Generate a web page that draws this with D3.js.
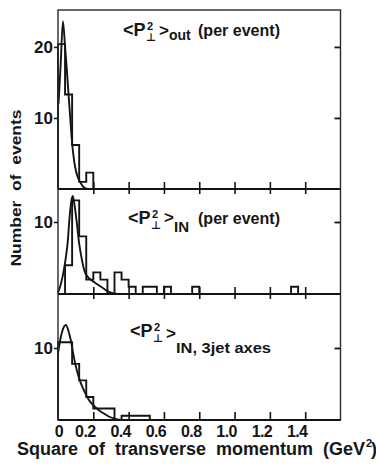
<!DOCTYPE html>
<html><head><meta charset="utf-8">
<script src="https://cdn.jsdelivr.net/npm/d3@7"></script>
<style>
body{margin:0;background:#fff}
svg{display:block}
text{font-family:"Liberation Sans",Arial,Helvetica,sans-serif;font-weight:bold;fill:#161616}
</style>
</head><body>
<svg id="c" width="376" height="470"></svg>
<script>
// ---------------- data ----------------
const binWidth = 0.04;
const hist1 = [20.4, 13.3, 6.2, 1, 2.3];
const hist2 = [0, 4, 13, 8, 2, 3, 2, 0, 3, 2, 1, 0, 1, 1, 0, 1, 0, 0, 0, 1,
               0, 0, 0, 0, 0, 0, 0, 0, 0, 0, 0, 0, 0, 1];
const hist3 = [10.8, 10.8, 7.8, 5.5, 3.2, 1.6, 1.6, 1.6, 0, 0.6, 0.6, 0.6, 0.6];

const fitX1 = [0.003, 0.015, 0.028, 0.04, 0.05, 0.06, 0.07, 0.078, 0.088, 0.097, 0.11, 0.125, 0.14, 0.155, 0.17];
const fitY1 = [12, 17.5, 23.6, 20, 16.8, 13.2, 9.8, 7, 4.6, 3.1, 1.8, 1.0, 0.4, 0.1, 0];
const fitX2 = [0, 0.015, 0.03, 0.045, 0.055, 0.065, 0.075, 0.083, 0.092, 0.106, 0.12, 0.135, 0.15, 0.165, 0.19, 0.22, 0.25, 0.28, 0.31, 0.34];
const fitY2 = [0.2, 1.3, 2.9, 5.2, 7.2, 10.5, 12.8, 13.6, 12.6, 10, 7, 4.8, 3.2, 2.5, 1.9, 1.4, 0.9, 0.4, 0.1, 0];
const fitX3 = [0, 0.01, 0.025, 0.045, 0.06, 0.074, 0.085, 0.097, 0.11, 0.125, 0.14, 0.153, 0.17, 0.19, 0.21, 0.23, 0.26, 0.29, 0.32, 0.36];
const fitY3 = [9.2, 10.8, 12.4, 13.2, 12.3, 10.9, 9.4, 7.9, 6.6, 5.4, 4.5, 3.8, 3.0, 2.3, 1.8, 1.4, 0.9, 0.45, 0.2, 0];

const xTickValues = [0, 0.2, 0.4, 0.6, 0.8, 1.0, 1.2, 1.4];
const xTickLabels = ["0", "0.2", "0.4", "0.6", "0.8", "1.0", "1.2", "1.4"];
const yTicks1 = [10, 20];
const yTicks2 = [10];
const yTicks3 = [10];
const yMax = [25.2, 14.58, 17.5];

const xLabel = "Square  of  transverse  momentum  (GeV";
const yLabel = "Number  of  events";

// ---------------- layout ----------------
const svg = d3.select("#c");
const L = 58, R = 340.5;
const x = d3.scaleLinear().domain([0, 1.6]).range([L, R]);
const bounds = [[10, 189], [189, 294], [294, 420]];

const panels = [
  {hist: hist1, fx: fitX1, fy: fitY1, ticks: yTicks1, ymax: yMax[0]},
  {hist: hist2, fx: fitX2, fy: fitY2, ticks: yTicks2, ymax: yMax[1]},
  {hist: hist3, fx: fitX3, fy: fitY3, ticks: yTicks3, ymax: yMax[2]}
];

const stroke = "#141414";

panels.forEach((p, i) => {
  const [top, bottom] = bounds[i];
  const y = d3.scaleLinear().domain([0, p.ymax]).range([bottom, top]);
  const g = svg.append("g");

  // histogram
  const pts = [[0, 0]];
  p.hist.forEach((v, k) => pts.push([k * binWidth, v]));
  pts.push([p.hist.length * binWidth, 0]);
  const step = d3.line().x(d => x(d[0])).y(d => y(d[1])).curve(d3.curveStepAfter);
  g.append("path").attr("d", step(pts)).attr("fill", "none")
    .attr("stroke", stroke).attr("stroke-width", 1.9);

  // fit curve
  const cpts = p.fx.map((v, k) => [v, p.fy[k]]);
  const line = d3.line().x(d => x(d[0])).y(d => y(d[1])).curve(d3.curveMonotoneX);
  g.append("path").attr("d", line(cpts)).attr("fill", "none")
    .attr("stroke", stroke).attr("stroke-width", 1.9);

  // left axis (outward ticks)
  const la = g.append("g").attr("transform", `translate(${L},0)`)
    .call(d3.axisLeft(y).tickValues(p.ticks).tickSize(4).tickPadding(1).tickFormat(d3.format("d")));
  la.select(".domain").remove();
  la.selectAll("line").attr("stroke", stroke).attr("stroke-width", 1.6);
  la.selectAll("text").attr("font-size", 17).attr("font-family", null).attr("fill", "#161616");

  // right axis (inward ticks)
  const ra = g.append("g").attr("transform", `translate(${R},0)`)
    .call(d3.axisLeft(y).tickValues(p.ticks).tickSize(6).tickFormat(""));
  ra.select(".domain").remove();
  ra.selectAll("line").attr("stroke", stroke).attr("stroke-width", 1.8);

  // bottom ticks (inward, upward)
  const ba = g.append("g").attr("transform", `translate(0,${bottom})`)
    .call(d3.axisTop(x).tickValues(xTickValues.slice(1)).tickSize(i === 2 ? 8 : 7).tickFormat(""));
  ba.select(".domain").remove();
  ba.selectAll("line").attr("stroke", stroke).attr("stroke-width", 1.6);

  // top ticks for lower panels (inward, downward)
  if (i > 0) {
    const ta = g.append("g").attr("transform", `translate(0,${top})`)
      .call(d3.axisBottom(x).tickValues(xTickValues.slice(1)).tickSize(5).tickFormat(""));
    ta.select(".domain").remove();
    ta.selectAll("line").attr("stroke", stroke).attr("stroke-width", 1.6);
  }
});

// frame
svg.append("rect").attr("x", L).attr("y", 10).attr("width", R - L).attr("height", 410)
  .attr("fill", "none").attr("stroke", "#2a2a2a").attr("stroke-width", 1.4);
[189, 294].forEach(v => svg.append("line").attr("x1", L).attr("x2", R)
  .attr("y1", v).attr("y2", v).attr("stroke", stroke).attr("stroke-width", 2.2));
svg.append("line").attr("x1", L).attr("x2", R).attr("y1", 420).attr("y2", 420)
  .attr("stroke", stroke).attr("stroke-width", 1.8);

// x tick labels
svg.append("g").selectAll("text").data(xTickValues).join("text")
  .attr("x", (d, k) => k === 0 ? x(d) + 1 : x(d) - 8)
  .attr("y", 437).attr("text-anchor", "middle").attr("font-size", 16)
  .attr("letter-spacing", -0.6)
  .text((d, k) => xTickLabels[k]);

// x axis label
const xt = svg.append("text").attr("x", 17).attr("y", 455).attr("font-size", 18)
  .style("white-space", "pre").text(xLabel);
xt.attr("textLength", 348).attr("lengthAdjust", "spacingAndGlyphs");
svg.append("text").attr("x", 366).attr("y", 447).attr("font-size", 11).text("2");
svg.append("text").attr("x", 371).attr("y", 455).attr("font-size", 18).text(")");

// y axis label
svg.append("text").attr("transform", "translate(21,188) rotate(-90)")
  .attr("text-anchor", "middle").attr("font-size", 15).style("white-space", "pre")
  .attr("textLength", 157).attr("lengthAdjust", "spacingAndGlyphs").text(yLabel);

// panel titles
function title(cfg) {
  svg.append("text").attr("x", cfg.x).attr("y", cfg.y).attr("font-size", 18).text("<P");
  svg.append("text").attr("x", cfg.x + 24).attr("y", cfg.y - 6).attr("font-size", 11).text("2");
  svg.append("text").attr("x", cfg.x + 23).attr("y", cfg.y + 5).attr("font-size", 11)
    .attr("fill", "#161616").style("font-family", "'DejaVu Sans', sans-serif").text("\u22A5");
  svg.append("text").attr("x", cfg.x + 36).attr("y", cfg.y + cfg.gtDy).attr("font-size", 17).text(">");
  const s = svg.append("text").attr("x", cfg.x + 46).attr("y", cfg.y + cfg.subDy)
    .attr("font-size", cfg.subSize).style("white-space", "pre").text(cfg.sub);
  if (cfg.subW) s.attr("textLength", cfg.subW).attr("lengthAdjust", "spacingAndGlyphs");
  if (cfg.rest) {
    svg.append("text").attr("x", cfg.restX).attr("y", cfg.y).attr("font-size", 16)
      .attr("textLength", 82).attr("lengthAdjust", "spacingAndGlyphs").text(cfg.rest);
  }
}
title({x: 123, y: 36, gtDy: 0, sub: "out", subDy: 4, subSize: 14, rest: "(per event)", restX: 198});
title({x: 128, y: 224, gtDy: -1, sub: "IN", subDy: 8, subSize: 15, rest: "(per event)", restX: 198});
title({x: 130, y: 337, gtDy: 2, sub: "IN, 3jet axes", subDy: 16, subSize: 14, subW: 95});
</script>
</body></html>
